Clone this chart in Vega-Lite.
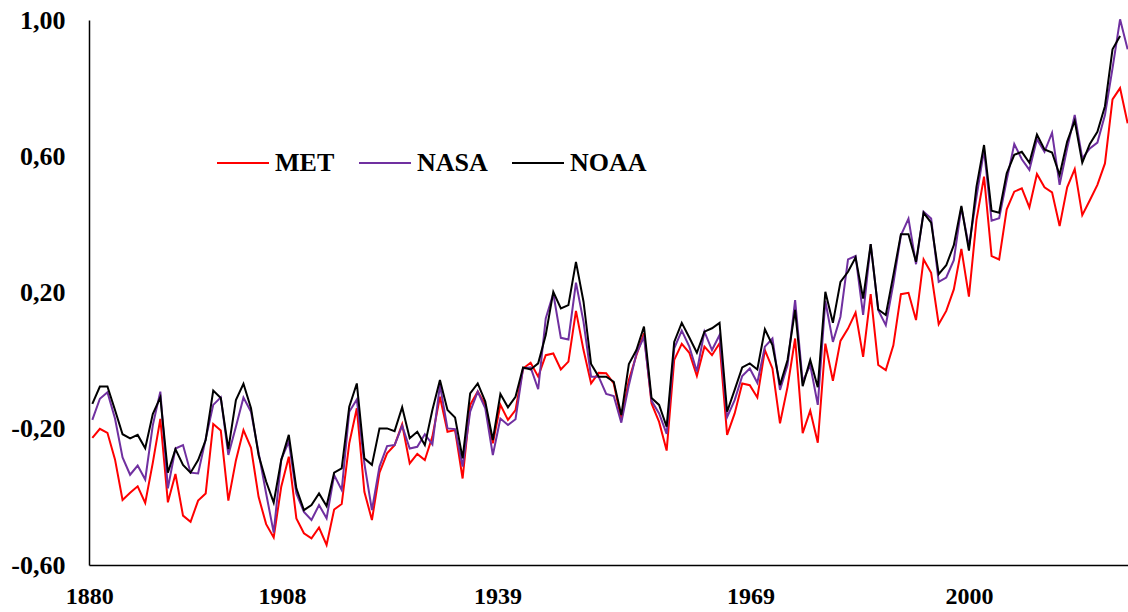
{
  "$schema": "https://vega.github.io/schema/vega-lite/v6.json",
  "width": 1039,
  "height": 545,
  "autosize": {"type": "none"},
  "padding": {"left": 89, "top": 20, "right": 0, "bottom": 47},
  "background": "white",
  "config": {"view": {"stroke": null}, "font": "Liberation Serif"},
  "data": {"values": [
    {"year":1880,"MET":-0.227,"NASA":-0.174,"NOAA":-0.127},
    {"year":1881,"MET":-0.200,"NASA":-0.112,"NOAA":-0.076},
    {"year":1882,"MET":-0.212,"NASA":-0.093,"NOAA":-0.076},
    {"year":1883,"MET":-0.290,"NASA":-0.170,"NOAA":-0.145},
    {"year":1884,"MET":-0.409,"NASA":-0.284,"NOAA":-0.216},
    {"year":1885,"MET":-0.388,"NASA":-0.335,"NOAA":-0.228},
    {"year":1886,"MET":-0.369,"NASA":-0.308,"NOAA":-0.218},
    {"year":1887,"MET":-0.418,"NASA":-0.349,"NOAA":-0.257},
    {"year":1888,"MET":-0.300,"NASA":-0.190,"NOAA":-0.157},
    {"year":1889,"MET":-0.171,"NASA":-0.091,"NOAA":-0.108},
    {"year":1890,"MET":-0.416,"NASA":-0.375,"NOAA":-0.329},
    {"year":1891,"MET":-0.333,"NASA":-0.258,"NOAA":-0.260},
    {"year":1892,"MET":-0.455,"NASA":-0.248,"NOAA":-0.306},
    {"year":1893,"MET":-0.473,"NASA":-0.329,"NOAA":-0.329},
    {"year":1894,"MET":-0.411,"NASA":-0.331,"NOAA":-0.292},
    {"year":1895,"MET":-0.390,"NASA":-0.230,"NOAA":-0.233},
    {"year":1896,"MET":-0.186,"NASA":-0.130,"NOAA":-0.088},
    {"year":1897,"MET":-0.205,"NASA":-0.108,"NOAA":-0.110},
    {"year":1898,"MET":-0.411,"NASA":-0.277,"NOAA":-0.260},
    {"year":1899,"MET":-0.293,"NASA":-0.194,"NOAA":-0.116},
    {"year":1900,"MET":-0.204,"NASA":-0.108,"NOAA":-0.068},
    {"year":1901,"MET":-0.256,"NASA":-0.150,"NOAA":-0.140},
    {"year":1902,"MET":-0.400,"NASA":-0.270,"NOAA":-0.277},
    {"year":1903,"MET":-0.480,"NASA":-0.390,"NOAA":-0.355},
    {"year":1904,"MET":-0.519,"NASA":-0.505,"NOAA":-0.417},
    {"year":1905,"MET":-0.370,"NASA":-0.290,"NOAA":-0.292},
    {"year":1906,"MET":-0.282,"NASA":-0.238,"NOAA":-0.218},
    {"year":1907,"MET":-0.463,"NASA":-0.390,"NOAA":-0.375},
    {"year":1908,"MET":-0.507,"NASA":-0.444,"NOAA":-0.439},
    {"year":1909,"MET":-0.522,"NASA":-0.468,"NOAA":-0.424},
    {"year":1910,"MET":-0.490,"NASA":-0.424,"NOAA":-0.390},
    {"year":1911,"MET":-0.541,"NASA":-0.463,"NOAA":-0.427},
    {"year":1912,"MET":-0.437,"NASA":-0.336,"NOAA":-0.329},
    {"year":1913,"MET":-0.421,"NASA":-0.380,"NOAA":-0.316},
    {"year":1914,"MET":-0.243,"NASA":-0.150,"NOAA":-0.135},
    {"year":1915,"MET":-0.140,"NASA":-0.114,"NOAA":-0.067},
    {"year":1916,"MET":-0.385,"NASA":-0.302,"NOAA":-0.287},
    {"year":1917,"MET":-0.468,"NASA":-0.439,"NOAA":-0.306},
    {"year":1918,"MET":-0.329,"NASA":-0.311,"NOAA":-0.199},
    {"year":1919,"MET":-0.272,"NASA":-0.251,"NOAA":-0.199},
    {"year":1920,"MET":-0.248,"NASA":-0.248,"NOAA":-0.207},
    {"year":1921,"MET":-0.187,"NASA":-0.191,"NOAA":-0.137},
    {"year":1922,"MET":-0.302,"NASA":-0.258,"NOAA":-0.228},
    {"year":1923,"MET":-0.274,"NASA":-0.253,"NOAA":-0.209},
    {"year":1924,"MET":-0.292,"NASA":-0.216,"NOAA":-0.248},
    {"year":1925,"MET":-0.223,"NASA":-0.246,"NOAA":-0.145},
    {"year":1926,"MET":-0.106,"NASA":-0.072,"NOAA":-0.057},
    {"year":1927,"MET":-0.209,"NASA":-0.199,"NOAA":-0.145},
    {"year":1928,"MET":-0.204,"NASA":-0.201,"NOAA":-0.167},
    {"year":1929,"MET":-0.346,"NASA":-0.311,"NOAA":-0.287},
    {"year":1930,"MET":-0.130,"NASA":-0.150,"NOAA":-0.096},
    {"year":1931,"MET":-0.091,"NASA":-0.091,"NOAA":-0.067},
    {"year":1932,"MET":-0.130,"NASA":-0.140,"NOAA":-0.120},
    {"year":1933,"MET":-0.243,"NASA":-0.277,"NOAA":-0.233},
    {"year":1934,"MET":-0.130,"NASA":-0.170,"NOAA":-0.098},
    {"year":1935,"MET":-0.174,"NASA":-0.189,"NOAA":-0.137},
    {"year":1936,"MET":-0.145,"NASA":-0.172,"NOAA":-0.106},
    {"year":1937,"MET":-0.023,"NASA":-0.023,"NOAA":-0.020},
    {"year":1938,"MET":-0.006,"NASA":-0.020,"NOAA":-0.026},
    {"year":1939,"MET":-0.047,"NASA":-0.084,"NOAA":-0.008},
    {"year":1940,"MET":0.016,"NASA":0.124,"NOAA":0.075},
    {"year":1941,"MET":0.021,"NASA":0.197,"NOAA":0.202},
    {"year":1942,"MET":-0.026,"NASA":0.067,"NOAA":0.153},
    {"year":1943,"MET":-0.003,"NASA":0.062,"NOAA":0.163},
    {"year":1944,"MET":0.146,"NASA":0.229,"NOAA":0.290},
    {"year":1945,"MET":0.031,"NASA":0.114,"NOAA":0.173},
    {"year":1946,"MET":-0.067,"NASA":-0.047,"NOAA":-0.010},
    {"year":1947,"MET":-0.036,"NASA":-0.047,"NOAA":-0.047},
    {"year":1948,"MET":-0.037,"NASA":-0.098,"NOAA":-0.047},
    {"year":1949,"MET":-0.067,"NASA":-0.104,"NOAA":-0.062},
    {"year":1950,"MET":-0.174,"NASA":-0.182,"NOAA":-0.160},
    {"year":1951,"MET":-0.057,"NASA":-0.072,"NOAA":-0.010},
    {"year":1952,"MET":0.016,"NASA":0.021,"NOAA":0.031},
    {"year":1953,"MET":0.080,"NASA":0.070,"NOAA":0.100},
    {"year":1954,"MET":-0.126,"NASA":-0.118,"NOAA":-0.110},
    {"year":1955,"MET":-0.180,"NASA":-0.155,"NOAA":-0.130},
    {"year":1956,"MET":-0.264,"NASA":-0.215,"NOAA":-0.194},
    {"year":1957,"MET":0.002,"NASA":0.036,"NOAA":0.055},
    {"year":1958,"MET":0.049,"NASA":0.088,"NOAA":0.111},
    {"year":1959,"MET":0.023,"NASA":0.041,"NOAA":0.068},
    {"year":1960,"MET":-0.045,"NASA":-0.032,"NOAA":0.023},
    {"year":1961,"MET":0.041,"NASA":0.085,"NOAA":0.085},
    {"year":1962,"MET":0.016,"NASA":0.031,"NOAA":0.095},
    {"year":1963,"MET":0.051,"NASA":0.075,"NOAA":0.111},
    {"year":1964,"MET":-0.218,"NASA":-0.166,"NOAA":-0.150},
    {"year":1965,"MET":-0.155,"NASA":-0.116,"NOAA":-0.086},
    {"year":1966,"MET":-0.067,"NASA":-0.045,"NOAA":-0.020},
    {"year":1967,"MET":-0.072,"NASA":-0.023,"NOAA":-0.008},
    {"year":1968,"MET":-0.108,"NASA":-0.065,"NOAA":-0.026},
    {"year":1969,"MET":0.031,"NASA":0.041,"NOAA":0.092},
    {"year":1970,"MET":-0.023,"NASA":0.065,"NOAA":0.046},
    {"year":1971,"MET":-0.184,"NASA":-0.086,"NOAA":-0.072},
    {"year":1972,"MET":-0.077,"NASA":-0.013,"NOAA":0.002},
    {"year":1973,"MET":0.065,"NASA":0.178,"NOAA":0.149},
    {"year":1974,"MET":-0.213,"NASA":-0.062,"NOAA":-0.075},
    {"year":1975,"MET":-0.147,"NASA":-0.013,"NOAA":0.002},
    {"year":1976,"MET":-0.241,"NASA":-0.130,"NOAA":-0.078},
    {"year":1977,"MET":0.050,"NASA":0.175,"NOAA":0.202},
    {"year":1978,"MET":-0.059,"NASA":0.055,"NOAA":0.111},
    {"year":1979,"MET":0.058,"NASA":0.129,"NOAA":0.231},
    {"year":1980,"MET":0.094,"NASA":0.297,"NOAA":0.261},
    {"year":1981,"MET":0.141,"NASA":0.307,"NOAA":0.303},
    {"year":1982,"MET":0.011,"NASA":0.134,"NOAA":0.182},
    {"year":1983,"MET":0.195,"NASA":0.342,"NOAA":0.342},
    {"year":1984,"MET":-0.013,"NASA":0.148,"NOAA":0.150},
    {"year":1985,"MET":-0.028,"NASA":0.104,"NOAA":0.134},
    {"year":1986,"MET":0.045,"NASA":0.226,"NOAA":0.251},
    {"year":1987,"MET":0.195,"NASA":0.368,"NOAA":0.371},
    {"year":1988,"MET":0.199,"NASA":0.417,"NOAA":0.371},
    {"year":1989,"MET":0.119,"NASA":0.283,"NOAA":0.290},
    {"year":1990,"MET":0.297,"NASA":0.437,"NOAA":0.434},
    {"year":1991,"MET":0.258,"NASA":0.417,"NOAA":0.405},
    {"year":1992,"MET":0.107,"NASA":0.231,"NOAA":0.254},
    {"year":1993,"MET":0.146,"NASA":0.244,"NOAA":0.280},
    {"year":1994,"MET":0.209,"NASA":0.295,"NOAA":0.339},
    {"year":1995,"MET":0.328,"NASA":0.450,"NOAA":0.454},
    {"year":1996,"MET":0.188,"NASA":0.335,"NOAA":0.323},
    {"year":1997,"MET":0.413,"NASA":0.481,"NOAA":0.511},
    {"year":1998,"MET":0.540,"NASA":0.618,"NOAA":0.633},
    {"year":1999,"MET":0.307,"NASA":0.411,"NOAA":0.440},
    {"year":2000,"MET":0.297,"NASA":0.418,"NOAA":0.434},
    {"year":2001,"MET":0.444,"NASA":0.530,"NOAA":0.550},
    {"year":2002,"MET":0.496,"NASA":0.636,"NOAA":0.604},
    {"year":2003,"MET":0.506,"NASA":0.591,"NOAA":0.613},
    {"year":2004,"MET":0.450,"NASA":0.560,"NOAA":0.581},
    {"year":2005,"MET":0.548,"NASA":0.650,"NOAA":0.664},
    {"year":2006,"MET":0.509,"NASA":0.613,"NOAA":0.620},
    {"year":2007,"MET":0.494,"NASA":0.669,"NOAA":0.611},
    {"year":2008,"MET":0.395,"NASA":0.516,"NOAA":0.545},
    {"year":2009,"MET":0.509,"NASA":0.623,"NOAA":0.643},
    {"year":2010,"MET":0.562,"NASA":0.721,"NOAA":0.704},
    {"year":2011,"MET":0.427,"NASA":0.594,"NOAA":0.581},
    {"year":2012,"MET":0.471,"NASA":0.623,"NOAA":0.636},
    {"year":2013,"MET":0.516,"NASA":0.640,"NOAA":0.672},
    {"year":2014,"MET":0.579,"NASA":0.721,"NOAA":0.747},
    {"year":2015,"MET":0.767,"NASA":0.858,"NOAA":0.914},
    {"year":2016,"MET":0.800,"NASA":1.002,"NOAA":0.953},
    {"year":2017,"MET":0.697,"NASA":0.914}
  ]},
  "transform": [
    {"fold": ["MET", "NASA", "NOAA"], "as": ["series", "value"]},
    {"filter": "isValid(datum.value)"}
  ],
  "mark": {"type": "line", "strokeWidth": 2, "clip": false},
  "encoding": {
    "x": {
      "field": "year", "type": "quantitative",
      "scale": {"domain": [1879.56, 2017.05], "zero": false, "nice": false},
      "axis": {
        "title": null, "grid": false, "ticks": false, "tickSize": 0,
        "values": [1879.6, 1905.1, 1933.6, 1967.1, 1996.0],
        "labelExpr": "datum.value < 1890 ? '1880' : datum.value < 1920 ? '1908' : datum.value < 1950 ? '1939' : datum.value < 1980 ? '1969' : '2000'",
        "labelFont": "Liberation Serif", "labelFontWeight": "bold", "labelFontSize": 24,
        "labelColor": "#000", "labelPadding": 19, "labelFlush": false, "labelOverlap": false,
        "domainColor": "#000", "domainWidth": 1.5
      }
    },
    "y": {
      "field": "value", "type": "quantitative",
      "scale": {"domain": [-0.6, 1.0], "nice": false, "zero": false},
      "axis": {
        "title": null, "grid": false, "ticks": false, "tickSize": 0,
        "values": [-0.6, -0.2, 0.2, 0.6, 1.0],
        "labelExpr": "replace(replace(format(datum.value, '.2f'), '.', ','), '\u2212', '-')",
        "labelFont": "Liberation Serif", "labelFontWeight": "bold", "labelFontSize": 26,
        "labelColor": "#000", "labelPadding": 24, "labelFlush": false, "labelOverlap": false,
        "domainColor": "#000", "domainWidth": 1.5
      }
    },
    "color": {
      "field": "series", "type": "nominal",
      "scale": {"domain": ["MET", "NASA", "NOAA"], "range": ["#FF0000", "#7030A0", "#000000"]},
      "legend": {
        "title": null, "orient": "none", "direction": "horizontal",
        "legendX": 127, "legendY": 116,
        "symbolType": "stroke", "symbolSize": 2704, "symbolStrokeWidth": 2,
        "labelFont": "Liberation Serif", "labelFontWeight": "bold", "labelFontSize": 26,
        "labelColor": "#000", "labelOffset": 5, "columnPadding": 20, "padding": 0
      }
    }
  }
}
